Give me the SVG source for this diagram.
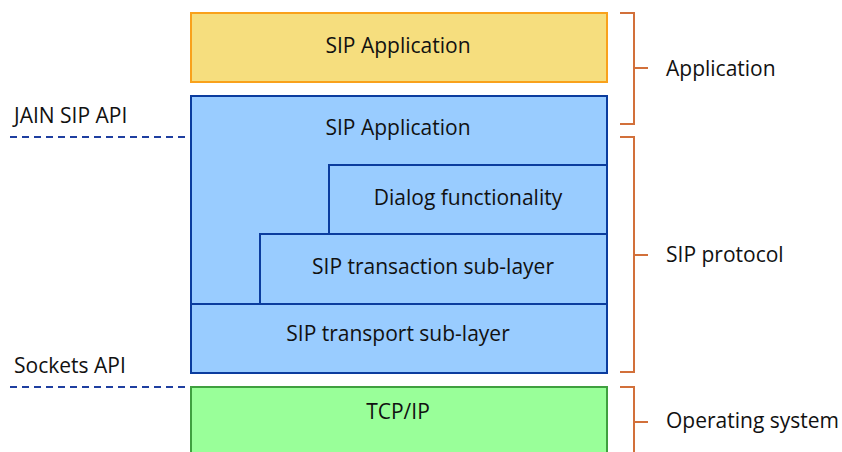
<svg xmlns="http://www.w3.org/2000/svg" width="842" height="452" viewBox="0 0 842 452">
<style>
text{font-family:"Open Sans","Liberation Sans",sans-serif;font-size:21px;fill:#111}
.c{text-anchor:middle}
.blue{fill:#99CCFF;stroke:#0B3C9E;stroke-width:2}
.br{fill:none;stroke:#D2703A;stroke-width:2}
.dash{stroke:#1F3FA0;stroke-width:2;stroke-dasharray:7 5;fill:none}
</style>
<rect width="842" height="452" fill="#fff"/>
<g id="app-top">
<rect x="191" y="13" width="416" height="69" fill="#F6DE7E" stroke="#F9A11B" stroke-width="2"/>
<text class="c" x="398" y="53">SIP Application</text>
</g>
<g id="sip-app">
<rect class="blue" x="191" y="96" width="416" height="277"/>
<text class="c" x="398" y="135">SIP Application</text>
</g>
<g id="dialog">
<rect class="blue" x="329" y="165" width="278" height="69"/>
<text class="c" x="468" y="205">Dialog functionality</text>
</g>
<g id="transaction">
<rect class="blue" x="260" y="234" width="347" height="70"/>
<text class="c" x="433" y="274">SIP transaction sub-layer</text>
</g>
<g id="transport">
<rect class="blue" x="191" y="304" width="416" height="69"/>
<text class="c" x="398" y="341">SIP transport sub-layer</text>
</g>
<g id="tcpip">
<rect x="191" y="387" width="416" height="80" fill="#99FF99" stroke="#3FA03F" stroke-width="2"/>
<text class="c" x="398" y="419">TCP/IP</text>
</g>
<g id="connectors">
<line class="dash" x1="10" y1="137" x2="186" y2="137"/>
<line class="dash" x1="10" y1="387" x2="186" y2="387"/>
<path class="br" d="M620 13H634V124H620M634 68H648"/>
<path class="br" d="M620 137H634V372H620M634 255H648"/>
<path class="br" d="M620 387H634V460M634 422H648"/>
</g>
<g id="labels">
<text x="14" y="123">JAIN SIP API</text>
<text x="14" y="373">Sockets API</text>
<text x="666" y="76">Application</text>
<text x="666" y="262">SIP protocol</text>
<text x="666" y="428">Operating system</text>
</g>
</svg>
